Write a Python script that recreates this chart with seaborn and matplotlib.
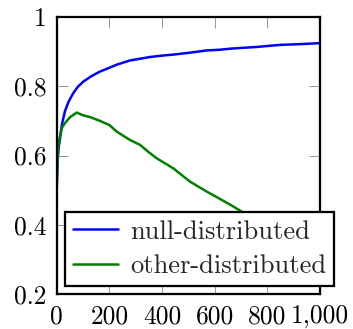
import matplotlib
matplotlib.use("Agg")
import matplotlib.pyplot as plt
import seaborn as sns
import pandas as pd

null_x = [0, 3, 7, 12, 20, 31, 45, 63, 80, 101, 130, 164, 200, 228, 278, 316, 354, 400, 443, 500, 570, 620, 658, 696, 760, 848, 920, 1000]
null_y = [0.50, 0.58, 0.62, 0.645, 0.69, 0.727, 0.755, 0.780, 0.798, 0.813, 0.828, 0.842, 0.853, 0.862, 0.874, 0.879, 0.884, 0.888, 0.891, 0.896, 0.903, 0.905, 0.908, 0.910, 0.913, 0.919, 0.921, 0.924]

other_x = [0, 3, 7, 12, 20, 31, 50, 76, 100, 126, 164, 200, 228, 278, 316, 354, 380, 443, 506, 570, 620, 671, 720, 800, 900, 1000]
other_y = [0.50, 0.59, 0.63, 0.655, 0.68, 0.693, 0.710, 0.724, 0.716, 0.711, 0.700, 0.688, 0.669, 0.645, 0.631, 0.607, 0.592, 0.563, 0.525, 0.496, 0.475, 0.453, 0.43, 0.39, 0.34, 0.30]

x_ticks = [0, 200, 400, 600, 800, 1000]
x_labels = ["0", "200", "400", "600", "800", "1,000"]
y_ticks = [0.2, 0.4, 0.6, 0.8, 1.0]
y_labels = ["0.2", "0.4", "0.6", "0.8", "1"]

sns.set_style("ticks")
plt.rcParams["font.family"] = ["cmr10", "DejaVu Serif"]
plt.rcParams["axes.unicode_minus"] = False

DPI = 180
fig = plt.figure(figsize=(353 / DPI, 329 / DPI), dpi=DPI)
ax = fig.add_axes([0.1606, 0.1055, 0.9065 - 0.1606, 0.949 - 0.1055])

df_null = pd.DataFrame({"x": null_x, "y": null_y})
df_other = pd.DataFrame({"x": other_x, "y": other_y})
sns.lineplot(data=df_null, x="x", y="y", ax=ax, color=(0, 0, 1), lw=1.0, label="null-distributed")
sns.lineplot(data=df_other, x="x", y="y", ax=ax, color=(0, 0.5, 0), lw=1.0, label="other-distributed")

ax.set_xlim(0, 1000)
ax.set_ylim(0.2, 1.0)
ax.set_xticks(x_ticks)
ax.set_xticklabels(x_labels)
ax.set_yticks(y_ticks)
ax.set_yticklabels(y_labels)
ax.set_xlabel("")
ax.set_ylabel("")
for s in ax.spines.values():
    s.set_visible(True)
    s.set_linewidth(0.9)
    s.set_color("black")
ax.tick_params(direction="in", length=4.25, width=0.4, color="#999999",
               top=True, right=True, labelsize=10.2, pad=4, labelcolor="black")

leg = ax.legend(loc="lower left", bbox_to_anchor=(0.032, 0.03), frameon=True,
                fontsize=10.6, handlelength=1.7, handletextpad=0.45, labelspacing=0.4,
                borderpad=0.3, borderaxespad=0, fancybox=False, framealpha=1)
leg.get_frame().set_edgecolor("black")
leg.get_frame().set_linewidth(0.9)

fig.savefig("out.png", dpi=DPI)
